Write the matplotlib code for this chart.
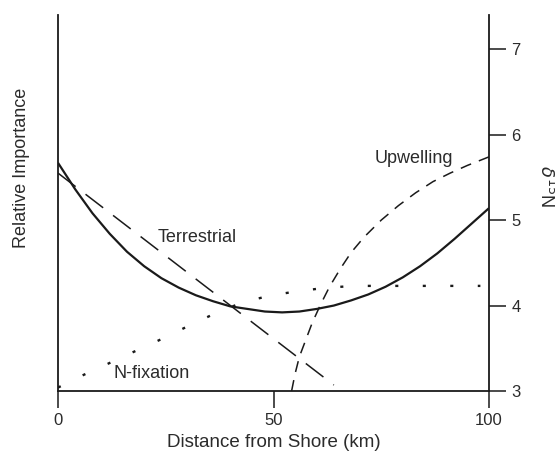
"""Relative importance of nitrogen sources with distance from shore."""

import numpy as np
import matplotlib
matplotlib.use("Agg")
import matplotlib.pyplot as plt

plt.rcParams["font.family"] = ["Liberation Sans", "DejaVu Sans"]
plt.rcParams["lines.scale_dashes"] = False

INK = "#1a1a1a"
TXT = "#2b2b2b"

# delta15N (solid curve)
d15n_x = [0, 4, 8, 12, 16, 20, 24, 28, 32, 36, 40, 44, 48, 52, 56, 60, 64, 68, 72, 76, 80, 84, 88, 92, 96, 100]
d15n_y = [5.67, 5.36, 5.08, 4.84, 4.63, 4.46, 4.32, 4.21, 4.12, 4.05, 3.99, 3.96, 3.93, 3.92, 3.93, 3.96,
          4.0, 4.06, 4.13, 4.22, 4.33, 4.46, 4.61, 4.78, 4.96, 5.14]

# terrestrial source (long dash)
terr_x = [0, 64]
terr_y = [5.55, 3.07]

# upwelling source (dashed)
upw_x = [54.2, 55, 56, 57.5, 59, 61, 63, 65.5, 68, 71, 75, 79, 83, 87, 91, 95, 100]
upw_y = [3.0, 3.2, 3.4, 3.6, 3.8, 4.02, 4.22, 4.43, 4.62, 4.8, 5.0, 5.17, 5.32, 5.45, 5.55, 5.64, 5.74]

# N-fixation source (dotted)
nfix_x = [0, 6, 12.5, 18.5, 25, 31, 37, 43, 49.5, 56, 62.5, 69, 98]
nfix_y = [3.04, 3.19, 3.34, 3.48, 3.63, 3.78, 3.92, 4.04, 4.12, 4.17, 4.21, 4.23, 4.23]

x_ticks = [0, 50, 100]
y_ticks = [3, 4, 5, 6, 7]

fig = plt.figure(figsize=(5.55, 4.53), dpi=100)
ax = fig.add_axes([58 / 555, 1 - 391 / 453, (489 - 58) / 555, (391 - 15) / 453])

ax.plot(d15n_x, d15n_y, color=INK, lw=1.6, solid_capstyle="butt")
ax.plot(terr_x, terr_y, color=INK, lw=1.1, dashes=(16, 9))
ax.plot(upw_x, upw_y, color=INK, lw=1.1, dashes=(8, 6))
ax.plot(nfix_x, nfix_y, color=INK, lw=1.7, dashes=(2.2, 17.6))

ax.set_xlim(0, 100)
ax.set_ylim(3, 7.4)

ax.text(82.6, 5.72, "Upwelling", fontsize=13, color=TXT, ha="center", va="center")
ax.text(32.3, 4.8, "Terrestrial", fontsize=13, color=TXT, ha="center", va="center")
ax.text(21.8, 3.21, "N-fixation", fontsize=13, color=TXT, ha="center", va="center")

ax.spines["top"].set_visible(False)
for side in ["left", "right", "bottom"]:
    ax.spines[side].set_color(INK)
    ax.spines[side].set_linewidth(1.3)

ax.set_xticks(x_ticks)
ax.set_xticklabels([str(v) for v in x_ticks])
ax.tick_params(axis="x", direction="out", length=12, width=1.1, colors=INK,
               labelcolor=TXT, labelsize=12, pad=4)
ax.yaxis.tick_right()
ax.set_yticks(y_ticks)
ax.tick_params(axis="y", direction="out", length=12, width=1.1, colors=INK,
               labelcolor=TXT, labelsize=12, pad=4)

ax.set_xlabel("Distance from Shore (km)", fontsize=13.5, color=TXT, labelpad=4)
fig.text(22 / 555, 1 - 168 / 453, "Relative Importance", rotation=90,
         fontsize=13, color=TXT, ha="center", va="center")
fig.text(546 / 555, 1 - 186 / 453, r"$\delta^{15}$N", rotation=270,
         fontsize=13, color=TXT, ha="center", va="center")

fig.savefig("out.png", dpi=100)
